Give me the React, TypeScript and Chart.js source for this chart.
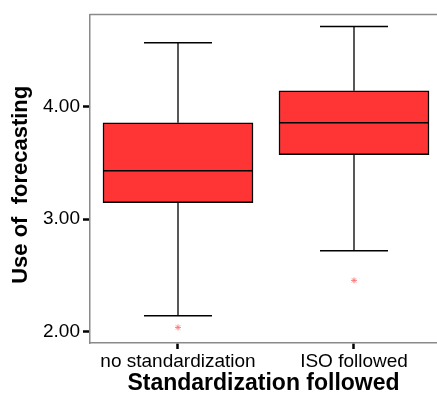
import React, { useEffect, useRef } from "react";
import { Chart, registerables } from "chart.js";

Chart.register(...registerables);

const categories = ["no standardization", "ISO followed"];
const whiskerLow = [2.144, 2.72];
const q1 = [3.146, 3.572];
const median = [3.43, 3.855];
const q3 = [3.855, 4.139];
const whiskerHigh = [4.565, 4.709];
const outliers = [
  { cat: 0, value: 2.04 },
  { cat: 1, value: 2.457 },
];
const yTicks = [2, 3, 4];

const boxPlugin = {
  id: "boxExtras",
  beforeDatasetsDraw(chart: any) {
    const { ctx, chartArea, scales } = chart;
    const x = scales.x;
    const y = scales.y;
    ctx.save();
    ctx.strokeStyle = "#8a8a8a";
    ctx.lineWidth = 1.5;
    ctx.beginPath();
    ctx.moveTo(chartArea.left, chartArea.top);
    ctx.lineTo(chartArea.right, chartArea.top);
    ctx.stroke();
    ctx.lineWidth = 1.5;
    categories.forEach((_, i) => {
      const px = x.getPixelForValue(i);
      const capHalf = 34;
      ctx.strokeStyle = "#222";
      ctx.beginPath();
      ctx.moveTo(px, y.getPixelForValue(q3[i]));
      ctx.lineTo(px, y.getPixelForValue(whiskerHigh[i]));
      ctx.moveTo(px, y.getPixelForValue(q1[i]));
      ctx.lineTo(px, y.getPixelForValue(whiskerLow[i]));
      ctx.stroke();
      ctx.strokeStyle = "#000";
      ctx.beginPath();
      ctx.moveTo(px - capHalf, y.getPixelForValue(whiskerHigh[i]));
      ctx.lineTo(px + capHalf, y.getPixelForValue(whiskerHigh[i]));
      ctx.moveTo(px - capHalf, y.getPixelForValue(whiskerLow[i]));
      ctx.lineTo(px + capHalf, y.getPixelForValue(whiskerLow[i]));
      ctx.stroke();
    });
    ctx.restore();
  },
  afterDatasetsDraw(chart: any) {
    const { ctx, scales } = chart;
    const x = scales.x;
    const y = scales.y;
    ctx.save();
    ctx.strokeStyle = "#000";
    ctx.lineWidth = 1.5;
    const meta = chart.getDatasetMeta(0);
    categories.forEach((_, i) => {
      const bar = meta.data[i];
      const half = bar ? bar.width / 2 : 75;
      const px = x.getPixelForValue(i);
      const py = y.getPixelForValue(median[i]);
      ctx.beginPath();
      ctx.moveTo(px - half, py);
      ctx.lineTo(px + half, py);
      ctx.stroke();
    });
    ctx.restore();
  },
};

export default function App() {
  const ref = useRef<HTMLCanvasElement>(null);
  useEffect(() => {
    if (!ref.current) return;
    Chart.defaults.font.family = "'Liberation Sans', Arial, sans-serif";
    const chart = new Chart(ref.current, {
      type: "bar",
      data: {
        datasets: [
          {
            type: "bar",
            data: categories.map((_, i) => ({ x: i, y: [q1[i], q3[i]] })) as any,
            backgroundColor: "#ff3535",
            borderColor: "#000",
            borderWidth: 1.5,
            borderSkipped: false,
            barThickness: 150,
          } as any,
          {
            type: "scatter",
            data: outliers.map((o) => ({ x: o.cat, y: o.value })),
            pointStyle: "star",
            radius: 3,
            borderColor: "rgba(255,110,110,0.85)",
            backgroundColor: "rgba(255,110,110,0.85)",
            borderWidth: 1,
          } as any,
        ],
      },
      options: {
        animation: false,
        responsive: false,
        layout: { autoPadding: false, padding: { top: 14, right: 0, left: 0, bottom: 0 } },
        plugins: { legend: { display: false }, tooltip: { enabled: false } },
        scales: {
          x: {
            type: "linear",
            offset: false,
            min: -0.5,
            max: 1.4716,
            afterBuildTicks: (s: any) => {
              s.ticks = categories.map((_, i) => ({ value: i }));
            },
            afterFit: (s: any) => {
              s.height = 58;
              s.paddingRight = 0;
              s.paddingLeft = 0;
            },
            ticks: {
              callback: (v: any) => categories[Number(v)] ?? "",
              color: "#000",
              font: { size: 19 },
              padding: 1,
              maxRotation: 0,
              autoSkip: false,
            },
            grid: {
              offset: false,
              drawOnChartArea: false,
              tickLength: 6,
              tickWidth: 2.5,
              tickColor: "#000",
            },
            border: { display: true, color: "#8a8a8a", width: 1.5 },
            title: {
              display: true,
              text: "Standardization followed",
              color: "#000",
              font: { size: 23, weight: "bold" },
              padding: { top: 0, bottom: 4 },
            },
          },
          y: {
            type: "linear",
            min: 1.902,
            max: 4.816,
            afterBuildTicks: (s: any) => {
              s.ticks = yTicks.map((v) => ({ value: v }));
            },
            afterFit: (s: any) => {
              s.width = 90;
            },
            ticks: {
              callback: (v: any) => Number(v).toFixed(2),
              color: "#000",
              font: { size: 19 },
              padding: 3,
            },
            grid: {
              drawOnChartArea: false,
              tickLength: 7,
              tickWidth: 2.5,
              tickColor: "#000",
            },
            border: { display: true, color: "#8a8a8a", width: 1.5 },
            title: {
              display: true,
              text: "Use of  forecasting  ",
              color: "#000",
              font: { size: 22, weight: "bold" },
              padding: { top: 8, bottom: 0 },
            },
          },
        },
      } as any,
      plugins: [boxPlugin],
    });
    return () => chart.destroy();
  }, []);
  return (
    <div style={{ position: "absolute", left: 0, top: 0, width: 437, height: 401, background: "#fff" }}>
      <canvas ref={ref} width={437} height={401} style={{ width: 437, height: 401, display: "block" }} />
    </div>
  );
}
